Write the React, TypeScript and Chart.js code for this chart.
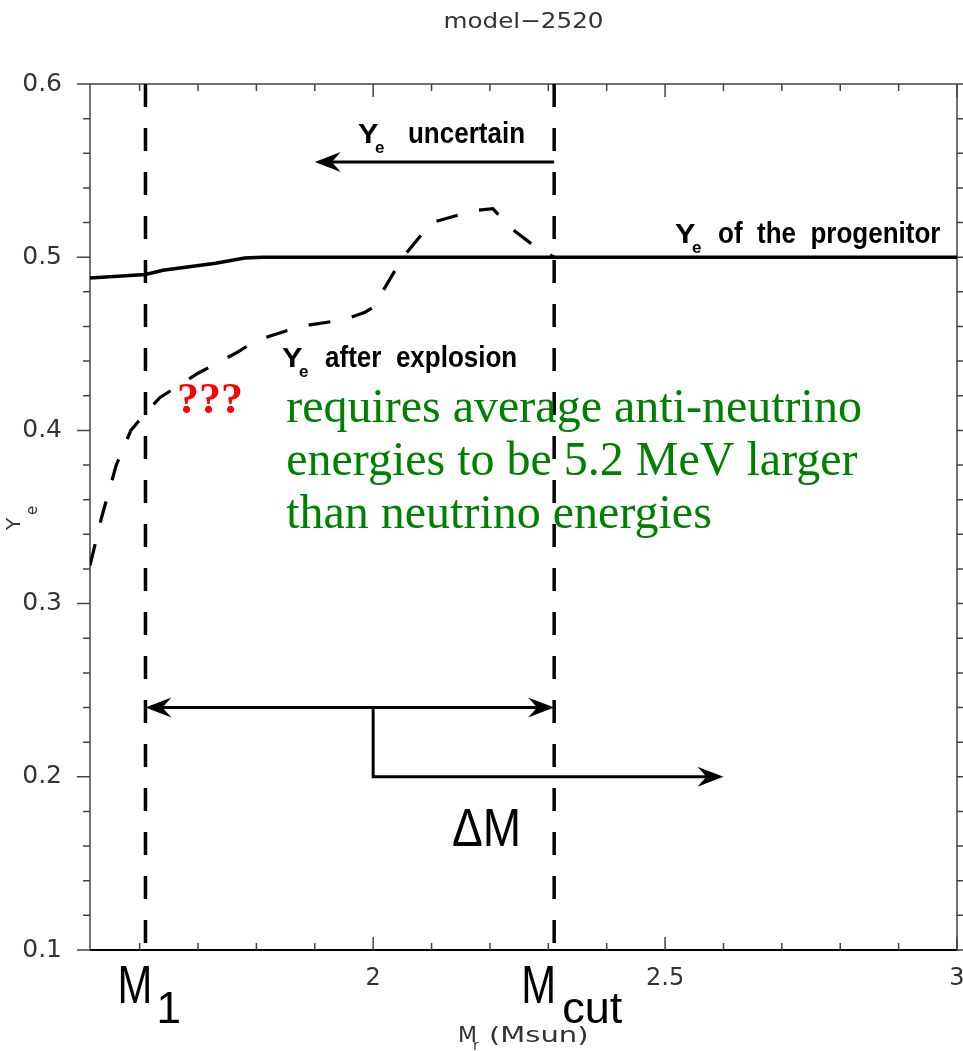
import React, { useEffect, useRef } from 'react';
import { Chart, registerables } from 'chart.js';

Chart.register(...registerables);

// ---------- data ----------
const TITLE = 'model−2520';
const X_MIN = 1.515;
const X_MAX = 3.0;
const Y_MIN = 0.1;
const Y_MAX = 0.6;
const X_TICKS = [2, 2.5, 3];
const Y_TICKS = [0.1, 0.2, 0.3, 0.4, 0.5, 0.6];

const progenitorX = [1.515, 1.61, 1.64, 1.73, 1.78, 1.81, 3.0];
const progenitorY = [0.488, 0.490, 0.4925, 0.4965, 0.4995, 0.5, 0.5];

const explosionX = [1.515, 1.535, 1.56, 1.585, 1.61, 1.635, 1.70, 1.767, 1.80, 1.875, 1.95, 1.985, 2.0, 2.05, 2.10, 2.175, 2.205, 2.235, 2.27, 2.31];
const explosionY = [0.322, 0.35, 0.38, 0.40, 0.41, 0.419, 0.433, 0.445, 0.452, 0.460, 0.464, 0.468, 0.471, 0.4995, 0.52, 0.527, 0.528, 0.517, 0.508, 0.5];

const M1 = 1.61;
const MCUT = 2.31;
const UNCERTAIN_Y = 0.555;
const UNCERTAIN_TIP = 1.9;
const DELTA_Y = 0.24;
const BRACKET_X = 2.0;
const BRACKET_Y = 0.2;
const BRACKET_TIP = 2.6;

const GREEN_LINES = [
  'requires average anti-neutrino',
  'energies to be 5.2 MeV larger',
  'than neutrino energies',
];

const pts = (xs: number[], ys: number[]) => xs.map((x, i) => ({ x, y: ys[i] }));

function txt(ctx: CanvasRenderingContext2D, s: string, x: number, y: number, font: string, color: string, align: CanvasTextAlign = 'left', sx = 1, sy = 1) {
  ctx.save();
  ctx.translate(x, y);
  ctx.scale(sx, sy);
  ctx.font = font;
  ctx.fillStyle = color;
  ctx.textAlign = align;
  ctx.textBaseline = 'alphabetic';
  ctx.fillText(s, 0, 0);
  ctx.restore();
}

function arrowHead(ctx: CanvasRenderingContext2D, tx: number, ty: number, dir: number) {
  const L = 26, W = 10, N = 17;
  ctx.save();
  ctx.fillStyle = '#000';
  ctx.beginPath();
  ctx.moveTo(tx, ty);
  ctx.lineTo(tx - dir * L, ty - W);
  ctx.lineTo(tx - dir * N, ty);
  ctx.lineTo(tx - dir * L, ty + W);
  ctx.closePath();
  ctx.fill();
  ctx.restore();
}

function yeLabel(ctx: CanvasRenderingContext2D, x: number, y: number, rest: string, restGap: number) {
  const f = '"Liberation Sans", Arial, sans-serif';
  txt(ctx, 'Y', x, y, `bold 28px ${f}`, '#000', 'left', 1.1, 1);
  txt(ctx, 'e', x + 17, y + 10, `bold 17px ${f}`, '#000');
  txt(ctx, rest, x + restGap, y, `bold 26px ${f}`, '#000', 'left', 1, 1.1);
}

const overlay = {
  id: 'overlay',
  beforeDatasetsDraw(chart: any) {
    const { ctx, chartArea: a, scales } = chart;
    const xs = scales.x, ys = scales.y;
    ctx.save();
    ctx.strokeStyle = '#444';
    ctx.lineWidth = 1.5;
    ctx.strokeRect(a.left, a.top, a.right - a.left, a.bottom - a.top);
    ctx.strokeStyle = '#000';
    ctx.lineWidth = 2;
    ctx.beginPath();
    ctx.moveTo(a.left, a.bottom);
    ctx.lineTo(a.right, a.bottom);
    ctx.stroke();
    ctx.strokeStyle = '#444';
    ctx.lineWidth = 1.5;
    ctx.beginPath();
    for (let i = 16; i <= 30; i++) {
      const v = i / 10;
      const px = xs.getPixelForValue(v);
      const major = i % 5 === 0;
      const len = major ? 13 : 7;
      ctx.moveTo(px, a.bottom);
      ctx.lineTo(px, a.bottom - len);
      ctx.moveTo(px, a.top);
      ctx.lineTo(px, a.top + len);
    }
    for (let i = 5; i <= 30; i++) {
      const v = i / 50;
      const py = ys.getPixelForValue(v);
      const major = i % 5 === 0;
      const len = major ? 13 : 7;
      ctx.moveTo(a.left, py);
      ctx.lineTo(a.left - len, py);
      ctx.moveTo(a.right, py);
      ctx.lineTo(a.right + len, py);
    }
    ctx.stroke();
    ctx.restore();
  },
  afterDatasetsDraw(chart: any) {
    const { ctx, chartArea: a, scales } = chart;
    const X = (v: number) => scales.x.getPixelForValue(v);
    const Y = (v: number) => scales.y.getPixelForValue(v);

    // arrow heads
    arrowHead(ctx, X(UNCERTAIN_TIP), Y(UNCERTAIN_Y), -1);
    arrowHead(ctx, X(M1), Y(DELTA_Y), -1);
    arrowHead(ctx, X(MCUT), Y(DELTA_Y), 1);
    arrowHead(ctx, X(BRACKET_TIP), Y(BRACKET_Y), 1);

    // title
    txt(ctx, TITLE, (a.left + a.right) / 2, 28, '22px "DejaVu Sans", sans-serif', '#333', 'center', 1.12, 1);

    // labels
    yeLabel(ctx, X(1.974), Y(0.566), 'uncertain', 50);
    yeLabel(ctx, X(2.517), Y(0.508), 'of  the  progenitor', 43);
    yeLabel(ctx, X(1.844), Y(0.4366), 'after  explosion', 43);

    txt(ctx, '???', X(1.664), Y(0.41), 'bold 44px "Liberation Serif", serif', '#ff0000');
    GREEN_LINES.forEach((s, i) => {
      txt(ctx, s, X(1.851), Y(0.405) + i * 53, '48px "Liberation Serif", serif', '#008000');
    });

    txt(ctx, 'ΔM', X(2.135), Y(0.16), '46px "Liberation Sans", Arial, sans-serif', '#000', 'left', 1, 1.15);

    // below-axis markers
    const sf = '"Liberation Sans", Arial, sans-serif';
    txt(ctx, 'M', X(M1) - 28, a.bottom + 53, `44px ${sf}`, '#000', 'left', 0.95, 1.2);
    txt(ctx, '1', X(M1) + 11, a.bottom + 73, `44px ${sf}`, '#000', 'left', 1, 1);
    txt(ctx, 'M', X(MCUT) - 33, a.bottom + 53, `44px ${sf}`, '#000', 'left', 0.95, 1.2);
    txt(ctx, 'cut', X(MCUT) + 8, a.bottom + 73, `45px ${sf}`, '#000');

    // axis titles
    const df = '"DejaVu Sans", sans-serif';
    txt(ctx, 'M', 458, a.bottom + 92, `21px ${df}`, '#333', 'left', 1.05, 1);
    txt(ctx, 'r', 473, a.bottom + 100, `14px ${df}`, '#333');
    txt(ctx, '(Msun)', 489, a.bottom + 92, `21px ${df}`, '#333', 'left', 1.38, 1);

    ctx.save();
    ctx.translate(20, (a.top + a.bottom) / 2 + 13);
    ctx.rotate(-Math.PI / 2);
    ctx.font = `20px ${df}`;
    ctx.fillStyle = '#333';
    ctx.textBaseline = 'alphabetic';
    ctx.fillText('Y', 0, 0);
    ctx.font = `15px ${df}`;
    ctx.fillText('e', 15, 17);
    ctx.restore();
  },
};

export default function App() {
  const ref = useRef<HTMLCanvasElement>(null);
  useEffect(() => {
    document.body.style.margin = '0';
    const lineDs = (data: any[], width: number, dash: number[]) => ({
      data,
      showLine: true,
      borderColor: '#000',
      backgroundColor: '#000',
      borderWidth: width,
      borderDash: dash,
      pointRadius: 0,
      tension: 0,
      fill: false,
    });
    const chart = new Chart(ref.current as HTMLCanvasElement, {
      type: 'scatter',
      data: {
        datasets: [
          lineDs(pts(progenitorX, progenitorY), 3.5, []),
          lineDs(pts(explosionX, explosionY), 3.2, [22, 22]),
          lineDs([{ x: M1, y: Y_MAX }, { x: M1, y: Y_MIN }], 3.5, [23, 21]),
          lineDs([{ x: MCUT, y: Y_MAX }, { x: MCUT, y: Y_MIN }], 3.5, [23, 21]),
          lineDs([{ x: MCUT, y: UNCERTAIN_Y }, { x: UNCERTAIN_TIP + 0.02, y: UNCERTAIN_Y }], 3, []),
          lineDs([{ x: M1 + 0.02, y: DELTA_Y }, { x: MCUT - 0.02, y: DELTA_Y }], 3, []),
          lineDs([{ x: BRACKET_X, y: DELTA_Y }, { x: BRACKET_X, y: BRACKET_Y }, { x: BRACKET_TIP - 0.02, y: BRACKET_Y }], 3, []),
        ] as any,
      },
      options: {
        responsive: false,
        animation: false,
        layout: { padding: { top: 84, right: 6, left: 0, bottom: 0 } },
        plugins: {
          legend: { display: false },
          tooltip: { enabled: false },
          title: { display: false },
        },
        scales: {
          x: {
            type: 'linear',
            min: X_MIN,
            max: X_MAX,
            grid: { display: false, drawTicks: false },
            border: { display: false },
            afterBuildTicks: (s: any) => { s.ticks = X_TICKS.map((v) => ({ value: v })); },
            ticks: {
              padding: 14,
              color: '#333',
              maxRotation: 0,
              autoSkip: false,
              font: { family: '"DejaVu Sans", sans-serif', size: 24 },
              callback: (v: any) => String(v),
            },
            afterFit: (s: any) => { s.height = 101; s.paddingLeft = 0; s.paddingRight = 0; },
          },
          y: {
            type: 'linear',
            min: Y_MIN,
            max: Y_MAX,
            grid: { display: false, drawTicks: false },
            border: { display: false },
            afterBuildTicks: (s: any) => { s.ticks = Y_TICKS.map((v) => ({ value: v })); },
            ticks: {
              padding: 28,
              color: '#333',
              autoSkip: false,
              font: { family: '"DejaVu Sans", sans-serif', size: 25 },
              callback: (v: any) => Number(v).toFixed(1),
            },
            afterFit: (s: any) => { s.width = 90; s.paddingTop = 0; s.paddingBottom = 0; },
          },
        },
      } as any,
      plugins: [overlay],
    });
    return () => chart.destroy();
  }, []);
  return <canvas ref={ref} width={963} height={1051} style={{ display: 'block', width: 963, height: 1051 }} />;
}
